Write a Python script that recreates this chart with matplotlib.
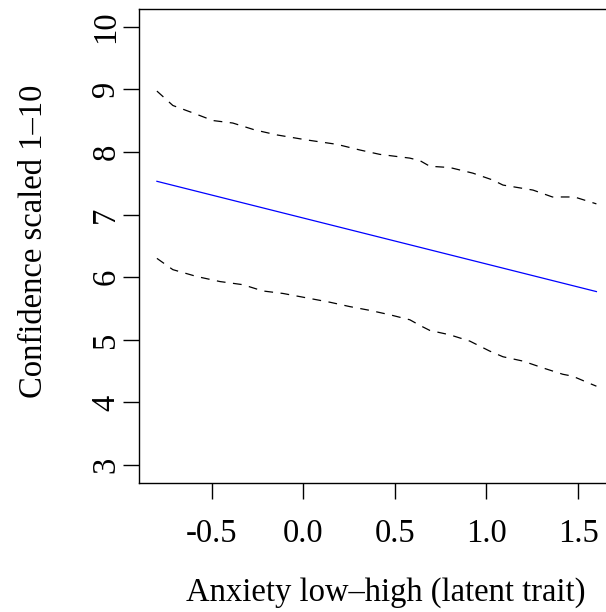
import numpy as np
import matplotlib
matplotlib.use("Agg")
import matplotlib.pyplot as plt

plt.rcParams['font.family'] = ['Liberation Serif', 'DejaVu Serif']

# fitted line (latent anxiety -> confidence)
fit_x = [-0.798, 1.60]
fit_y = [7.53, 5.77]

# upper confidence band
upper_x = [-0.798, -0.711, -0.60, -0.493, -0.384, -0.264, -0.143, 0.02, 0.184, 0.309,
           0.418, 0.582, 0.637, 0.691, 0.80, 0.926, 1.035, 1.09, 1.254, 1.36, 1.48, 1.60]
upper_y = [8.97, 8.74, 8.62, 8.50, 8.46, 8.35, 8.27, 8.19, 8.12, 8.03,
           7.96, 7.90, 7.86, 7.77, 7.75, 7.66, 7.55, 7.47, 7.39, 7.28, 7.28, 7.17]

# lower confidence band
lower_x = [-0.798, -0.711, -0.58, -0.454, -0.329, -0.22, -0.11, 0.0, 0.146, 0.255, 0.364,
           0.473, 0.582, 0.637, 0.691, 0.80, 0.909, 1.018, 1.09, 1.20, 1.31, 1.417, 1.47, 1.575, 1.60]
lower_y = [6.30, 6.12, 6.01, 5.93, 5.88, 5.78, 5.74, 5.68, 5.60, 5.53, 5.47,
           5.40, 5.32, 5.23, 5.15, 5.08, 4.98, 4.82, 4.73, 4.66, 4.55, 4.45, 4.42, 4.29, 4.26]

xticks = [-0.5, 0.0, 0.5, 1.0, 1.5]
xtick_labels = ["-0.5", "0.0", "0.5", "1.0", "1.5"]
yticks = [3, 4, 5, 6, 7, 8, 9, 10]

fig = plt.figure(figsize=(6.06, 6.12), dpi=100)
# right edge of the box runs off the image like the original
ax = fig.add_axes([0.2299, 0.2113, 0.7833, 0.774])

ax.plot(fit_x, fit_y, color='blue', lw=0.9)
ax.plot(upper_x, upper_y, color='black', lw=0.9, dashes=(7, 6))
ax.plot(lower_x, lower_y, color='black', lw=0.9, dashes=(7, 6))

ax.set_xlim(-0.894, 1.696)
ax.set_ylim(2.72, 10.28)
ax.set_xticks(xticks)
ax.set_xticklabels(xtick_labels)
ax.set_yticks(yticks)
ax.set_yticklabels([str(v) for v in yticks], rotation=90, va='center')

for s in ax.spines.values():
    s.set_linewidth(1.0)
ax.tick_params(length=11.5, width=1.0, labelsize=23.5)
ax.tick_params(axis='x', pad=14)
ax.tick_params(axis='y', pad=1.5)

ax.set_xlabel("Anxiety low\u2013high (latent trait)", fontsize=23.5, labelpad=20.5)
ax.set_ylabel("Confidence scaled 1\u201310", fontsize=23.5, labelpad=30)
ax.xaxis.label.set_x(0.52)
ax.yaxis.label.set_y(0.509)

fig.savefig("out.png", dpi=100)
